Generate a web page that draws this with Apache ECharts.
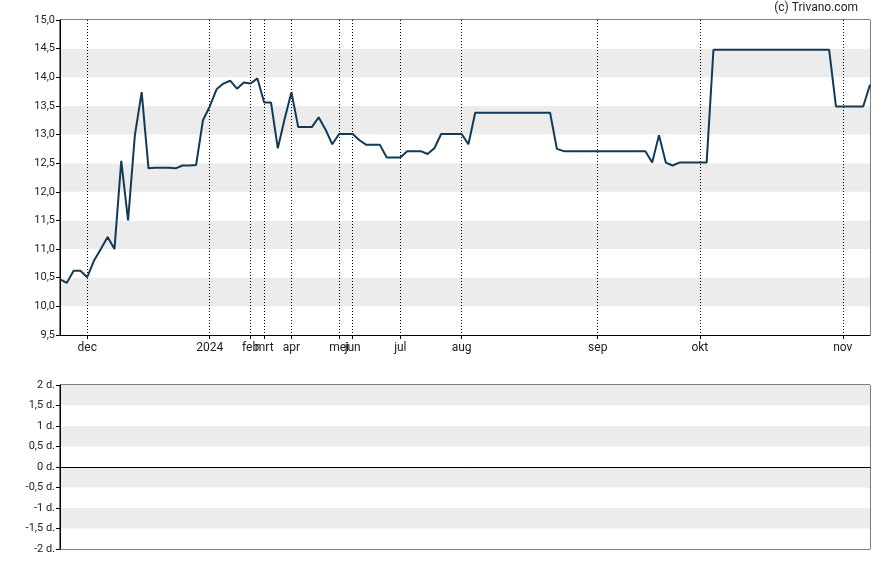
<!DOCTYPE html>
<html>
<head>
<meta charset="utf-8">
<script src="https://cdn.jsdelivr.net/npm/echarts@6/dist/echarts.min.js"></script>
<style>html,body{margin:0;padding:0;background:#fff}#c{width:888px;height:565px}</style>
</head>
<body>
<div id="c"></div>
<script>
// Price per trading point (index-based axis)
const prices = [
  10.47,10.41,10.62,10.62,10.51,10.80,11.00,11.21,11.00,12.54,
  11.50,12.99,13.74,12.41,12.42,12.42,12.42,12.41,12.46,12.46,
  12.47,13.25,13.49,13.79,13.89,13.94,13.80,13.91,13.89,13.98,
  13.56,13.56,12.76,13.27,13.74,13.13,13.13,13.13,13.30,13.09,
  12.83,13.01,13.01,13.01,12.90,12.82,12.82,12.82,12.60,12.60,
  12.60,12.71,12.71,12.71,12.66,12.76,13.01,13.01,13.01,13.01,
  12.83,13.38,13.38,13.38,13.38,13.38,13.38,13.38,13.38,13.38,
  13.38,13.38,13.38,12.75,12.71,12.71,12.71,12.71,12.71,12.71,
  12.71,12.71,12.71,12.71,12.71,12.71,12.71,12.51,12.99,12.51,
  12.46,12.51,12.51,12.51,12.51,12.51,14.48,14.48,14.48,14.48,
  14.48,14.48,14.48,14.48,14.48,14.48,14.48,14.48,14.48,14.48,
  14.48,14.48,14.48,14.48,13.49,13.49,13.49,13.49,13.49,13.87
];
// Month tick labels and the trading-point index where each month starts
const monthLabels = ['dec','2024','feb','mrt','apr','mei','jun','jul','aug','sep','okt','nov'];
const monthIndex  = [4,22,28,30,34,41,43,50,59,79,94,115];
const yTicksTop = [9.5, 15.0];
const yTicksBottom = [-2, 2];

const categories = prices.map((_, i) => {
  const k = monthIndex.indexOf(i);
  return k >= 0 ? monthLabels[k] : '';
});
const isMonth = (idx) => categories[idx] !== '';
const fmtComma = (v) => String(v).replace('.', ',');

const chart = echarts.init(document.getElementById('c'));
chart.setOption({
  animation: false,
  textStyle: { fontFamily: 'Roboto, sans-serif' },
  graphic: [{
    type: 'text', right: 30, top: 2,
    style: { text: '(c) Trivano.com', font: '12px Roboto, sans-serif', fill: '#222' }
  }],
  grid: [
    { left: 60, right: 18, top: 20, height: 315, show: true, borderColor: '#000', borderWidth: 1, backgroundColor: 'transparent' },
    { left: 60, right: 18, top: 385, height: 164, show: true, borderColor: '#000', borderWidth: 1, backgroundColor: 'transparent' }
  ],
  xAxis: [
    {
      type: 'category', gridIndex: 0, data: categories, boundaryGap: false,
      axisLine: { lineStyle: { color: '#000', width: 1 } },
      axisTick: { show: true, interval: isMonth, length: 4, lineStyle: { color: '#000' } },
      axisLabel: { interval: isMonth, color: '#222', fontSize: 12, margin: 7 },
      splitLine: { show: true, interval: isMonth, lineStyle: { color: '#000', type: [1, 2], width: 1 } }
    },
    {
      type: 'category', gridIndex: 1, data: categories, boundaryGap: false,
      axisLine: { onZero: true, lineStyle: { color: '#000', width: 1 } },
      axisTick: { show: false }, axisLabel: { show: false }, splitLine: { show: false }
    }
  ],
  yAxis: [
    {
      type: 'value', gridIndex: 0, min: yTicksTop[0], max: yTicksTop[1], interval: 0.5,
      axisLine: { show: true, lineStyle: { color: '#000' } },
      axisTick: { show: true, length: 4, lineStyle: { color: '#000' } },
      axisLabel: { color: '#222', fontSize: 11, margin: 5, formatter: (v) => v.toFixed(1).replace('.', ',') },
      splitLine: { show: false },
      splitArea: { show: true, areaStyle: { color: ['#ffffff', '#ececec'] } }
    },
    {
      type: 'value', gridIndex: 1, min: yTicksBottom[0], max: yTicksBottom[1], interval: 0.5,
      axisLine: { show: true, lineStyle: { color: '#000' } },
      axisTick: { show: true, length: 4, lineStyle: { color: '#000' } },
      axisLabel: { color: '#222', fontSize: 11, margin: 5, formatter: (v) => fmtComma(v) + ' d.' },
      splitLine: { show: false },
      splitArea: { show: true, areaStyle: { color: ['#ffffff', '#ececec'] } }
    }
  ],
  series: [
    {
      type: 'line', xAxisIndex: 0, yAxisIndex: 0, data: prices,
      symbol: 'none', lineStyle: { color: '#123a57', width: 2 }
    },
    {
      type: 'line', xAxisIndex: 1, yAxisIndex: 1, data: [], symbol: 'none'
    }
  ]
});
</script>
</body>
</html>
